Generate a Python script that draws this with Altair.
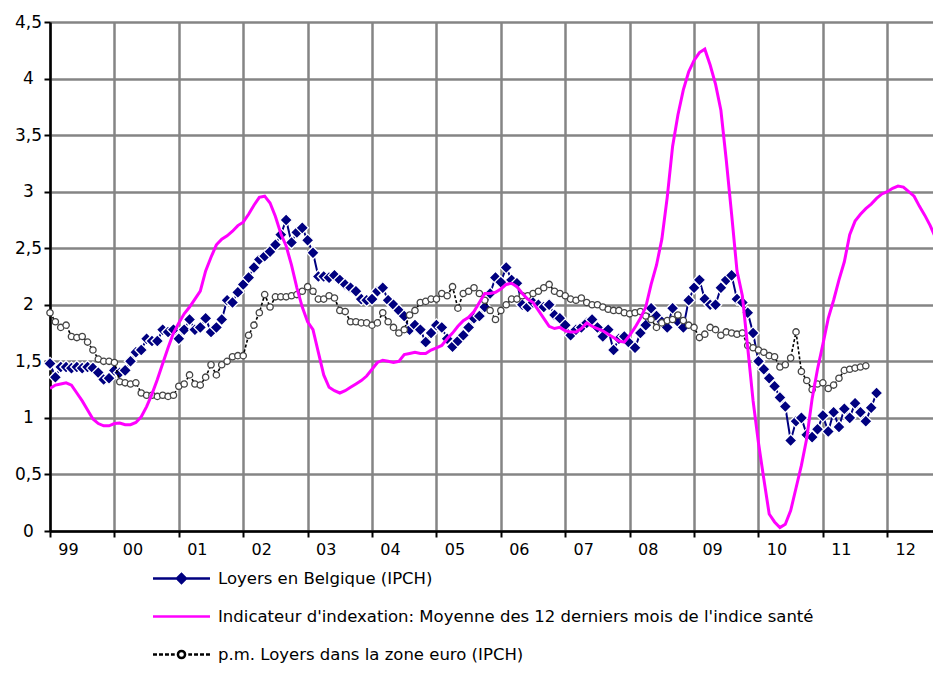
import json
import altair as alt
import pandas as pd

START_YEAR = 1999

# Loyers en Belgique (IPCH), monthly from Jan 1999
belgique = [
    1.48, 1.36, 1.45, 1.45, 1.44, 1.45, 1.44, 1.45, 1.44, 1.40, 1.34, 1.35,
    1.42, 1.40, 1.42, 1.50, 1.58, 1.60, 1.70, 1.68, 1.68, 1.78, 1.76, 1.78,
    1.70, 1.78, 1.87, 1.78, 1.80, 1.88, 1.76, 1.80, 1.87, 2.04, 2.02, 2.11,
    2.18, 2.24, 2.33, 2.40, 2.43, 2.47, 2.53, 2.62, 2.75, 2.55, 2.64, 2.68,
    2.57, 2.46, 2.25, 2.25, 2.24, 2.26, 2.22, 2.18, 2.15, 2.12, 2.05, 2.04,
    2.05, 2.12, 2.15, 2.04, 2.00, 1.95, 1.90, 1.78, 1.82, 1.78, 1.67, 1.75,
    1.82, 1.80, 1.70, 1.63, 1.68, 1.73, 1.80, 1.88, 1.90, 1.98, 2.10, 2.24,
    2.20, 2.33, 2.22, 2.19, 2.00, 1.98, 2.02, 2.00, 1.98, 2.00, 1.91, 1.88,
    1.82, 1.73, 1.78, 1.80, 1.84, 1.87, 1.80, 1.72, 1.78, 1.60, 1.70, 1.72,
    1.66, 1.62, 1.75, 1.82, 1.97, 1.90, 1.85, 1.80, 1.97, 1.85, 1.80, 2.04,
    2.15, 2.22, 2.05, 2.00, 2.00, 2.15, 2.22, 2.26, 2.05, 2.02, 1.93, 1.75,
    1.50, 1.43, 1.35, 1.28, 1.18, 1.10, 0.80, 0.97, 1.00, 0.85, 0.83, 0.90,
    1.02, 0.88, 1.05, 0.92, 1.08, 1.00, 1.13, 1.05, 0.97, 1.09, 1.22,
]

# Indicateur d'indexation, monthly from Jan 1999
indexation = [
    1.26, 1.29, 1.30, 1.31, 1.29, 1.22, 1.15, 1.07, 0.99, 0.95, 0.93, 0.93,
    0.95, 0.955, 0.94, 0.94, 0.96, 1.01, 1.10, 1.21, 1.34, 1.48, 1.62, 1.75,
    1.84, 1.92, 1.98, 2.05, 2.12, 2.30, 2.42, 2.53, 2.58, 2.61, 2.65, 2.70,
    2.73, 2.80, 2.88, 2.95, 2.96, 2.90, 2.78, 2.63, 2.52, 2.35, 2.15, 1.98,
    1.85, 1.78, 1.58, 1.38, 1.27, 1.24, 1.22, 1.24, 1.27, 1.30, 1.33, 1.37,
    1.43, 1.49, 1.51, 1.50, 1.49, 1.50, 1.56, 1.57, 1.58, 1.57, 1.57, 1.60,
    1.62, 1.64, 1.70, 1.75, 1.81, 1.86, 1.89, 1.94, 2.02, 2.10, 2.10, 2.11,
    2.14, 2.18, 2.19, 2.16, 2.10, 2.05, 2.02, 1.95, 1.88, 1.81, 1.79, 1.80,
    1.77, 1.76, 1.76, 1.79, 1.84, 1.81, 1.79, 1.77, 1.74, 1.71, 1.68, 1.67,
    1.73, 1.80, 1.88, 1.98, 2.18, 2.35, 2.58, 2.95, 3.40, 3.68, 3.90, 4.06,
    4.16, 4.23, 4.26, 4.12, 3.95, 3.72, 3.28, 2.80, 2.30, 2.08, 1.62, 1.15,
    0.78, 0.46, 0.15, 0.08, 0.03, 0.06, 0.18, 0.38, 0.58, 0.82, 1.17, 1.43,
    1.65, 1.88, 2.04, 2.22, 2.38, 2.62, 2.74, 2.80, 2.85, 2.89, 2.94, 2.98,
    3.00, 3.03, 3.05, 3.04, 3.00, 2.96, 2.87, 2.79, 2.70, 2.59, 2.48,
]

# p.m. Loyers dans la zone euro (IPCH), monthly from Jan 1999
zone_euro = [
    1.93, 1.85, 1.80, 1.82, 1.72, 1.71, 1.72, 1.67, 1.60, 1.52, 1.50, 1.50,
    1.49, 1.32, 1.31, 1.30, 1.31, 1.22, 1.20, 1.20, 1.19, 1.20, 1.19, 1.20,
    1.28, 1.30, 1.38, 1.30, 1.29, 1.36, 1.47, 1.38, 1.47, 1.50, 1.54, 1.55,
    1.55, 1.73, 1.82, 1.93, 2.09, 1.98, 2.07, 2.07, 2.07, 2.08, 2.09, 2.12,
    2.16, 2.12, 2.05, 2.05, 2.08, 2.06, 1.95, 1.94, 1.85, 1.85, 1.84, 1.84,
    1.82, 1.84, 1.93, 1.85, 1.80, 1.75, 1.78, 1.91, 1.95, 2.02, 2.03, 2.05,
    2.05, 2.10, 2.08, 2.16, 1.97, 2.10, 2.12, 2.15, 2.10, 2.04, 1.95, 1.87,
    1.95, 2.00, 2.05, 2.05, 2.08, 2.08, 2.10, 2.12, 2.15, 2.18, 2.12, 2.10,
    2.08, 2.05, 2.04, 2.06, 2.02, 2.00, 2.00, 1.98, 1.96, 1.95, 1.95, 1.93,
    1.92, 1.93, 1.94, 1.90, 1.87, 1.80, 1.84, 1.86, 1.87, 1.91, 1.86, 1.82,
    1.80, 1.71, 1.74, 1.80, 1.78, 1.73, 1.76, 1.75, 1.74, 1.75, 1.64, 1.62,
    1.60, 1.58, 1.55, 1.54, 1.45, 1.47, 1.53, 1.76, 1.41, 1.33, 1.25, 1.30,
    1.31, 1.26, 1.29, 1.35, 1.42, 1.43, 1.44, 1.45, 1.46,
]

year_ticks = list(range(1999, 2013))
y_ticks = [0, 0.5, 1, 1.5, 2, 2.5, 3, 3.5, 4, 4.5]
x_domain = [1999, 2012.71]
y_domain = [0, 4.5]

series_codes = ["bel", "idx", "euro"]
series_labels = [
    "Loyers en Belgique (IPCH)",
    "Indicateur d'indexation: Moyenne des 12 derniers mois de l'indice santé",
    "p.m. Loyers dans la zone euro  (IPCH)",
]
series_colors = ["#000080", "#FF00FF", "#000000"]

legend_paths = [
    "M-4,0L4,0M-0.63,0L0,-0.63L0.63,0L0,0.63Z",
    "M-4,0L4,0",
    "M-4,0L-3.44,0M-3.16,0L-2.6,0M-2.32,0L-1.76,0M-1.48,0L-0.95,0"
    "M-0.5,0A0.5,0.5,0,1,1,0.5,0A0.5,0.5,0,1,1,-0.5,0"
    "M0.95,0L1.48,0M1.76,0L2.32,0M2.6,0L3.16,0M3.44,0L4,0",
]
legend_fills = ["#000080", "transparent", "#ffffff"]


def frame(values, code):
    return pd.DataFrame({
        "t": [START_YEAR + i / 12 for i in range(len(values))],
        "v": values,
        "serie": code,
    })


def pick(values):
    q = [json.dumps(v) for v in values]
    return (f"datum.value === 'bel' ? {q[0]} : "
            f"datum.value === 'idx' ? {q[1]} : {q[2]}")


FONT = "DejaVu Sans"

x_enc = alt.X(
    "t:Q",
    scale=alt.Scale(domain=x_domain, nice=False, zero=False),
    axis=alt.Axis(
        values=year_ticks,
        labelExpr="slice(toString(datum.value), 2)",
        title=None,
        grid=True,
        gridColor="#858585",
        gridWidth=2.5,
        domainColor="#000000",
        domainWidth=2.5,
        tickColor="#000000",
        tickWidth=2,
        tickSize=6,
        labelOffset=18,
        labelPadding=4,
        labelFont=FONT,
        labelFontSize=16,
        labelColor="#000000",
        labelFlush=False,
        labelOverlap=False,
    ),
)
y_enc = alt.Y(
    "v:Q",
    scale=alt.Scale(domain=y_domain, nice=False, zero=True),
    axis=alt.Axis(
        values=y_ticks,
        labelExpr="replace(toString(datum.value), '.', ',')",
        title=None,
        grid=True,
        gridColor="#858585",
        gridWidth=2.5,
        domainColor="#000000",
        domainWidth=2.5,
        tickColor="#000000",
        tickWidth=2,
        tickSize=6,
        labelAlign="center",
        labelPadding=16,
        labelFont=FONT,
        labelFontSize=17,
        labelColor="#000000",
        labelFlush=False,
        labelOverlap=False,
    ),
)

bel_df = frame(belgique, "bel")
idx_df = frame(indexation, "idx")
euro_df = frame(zone_euro, "euro")

bel_line = alt.Chart(bel_df).mark_line(color="#000080", strokeWidth=2).encode(x=x_enc, y=y_enc)
bel_pts = alt.Chart(bel_df).mark_point(
    shape="diamond", filled=True, fill="#000080", stroke="#ffffff",
    strokeWidth=1.3, size=155, opacity=1,
).encode(x=x_enc, y=y_enc)

euro_line = alt.Chart(euro_df).mark_line(
    color="#000000", strokeWidth=1.6, strokeDash=[3, 2]
).encode(x=x_enc, y=y_enc)
euro_pts = alt.Chart(euro_df).mark_point(
    shape="circle", filled=True, fill="#ffffff", stroke="#444444",
    strokeWidth=1.3, size=40, opacity=1,
).encode(x=x_enc, y=y_enc)

legend = alt.Legend(
    title=None,
    orient="none",
    legendX=123,
    legendY=548,
    direction="vertical",
    padding=0,
    symbolSize=203,
    symbolStrokeWidth=2.5,
    symbolType=alt.ExprRef(expr=pick(legend_paths)),
    symbolFillColor=alt.ExprRef(expr=pick(legend_fills)),
    symbolOpacity=1,
    labelOffset=28,
    rowPadding=20,
    labelFont=FONT,
    labelFontSize=16.5,
    labelColor="#000000",
    labelLimit=900,
    labelExpr=pick(series_labels),
)

idx_line = alt.Chart(idx_df).mark_line(strokeWidth=3, clip=True).encode(
    x=x_enc,
    y=y_enc,
    color=alt.Color(
        "serie:N",
        scale=alt.Scale(domain=series_codes, range=series_colors),
        legend=legend,
    ),
)

chart = alt.layer(bel_line, bel_pts, euro_line, euro_pts, idx_line).properties(
    width=883,
    height=509,
    padding={"left": 42, "top": 14, "right": 0, "bottom": 134},
    autosize=alt.AutoSizeParams(type="none"),
).configure_view(strokeWidth=0).configure(background="#ffffff")

chart.save("out.html", embed_options={"renderer": "svg", "actions": False})
